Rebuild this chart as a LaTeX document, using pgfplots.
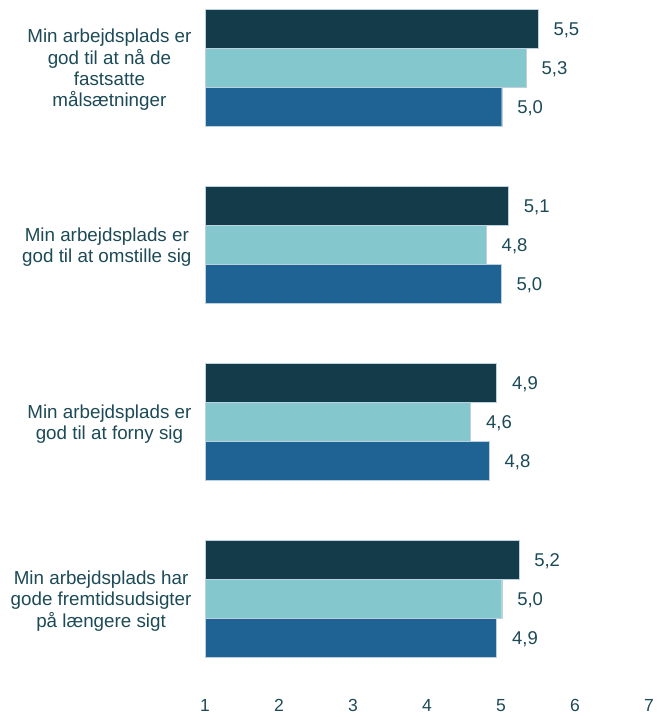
\documentclass[border=0pt]{standalone}
\usepackage{fontspec}
\setmainfont{Liberation Sans}
\usepackage{pgfplots}
\pgfplotsset{compat=1.18}
\definecolor{cdark}{HTML}{143B4A}
\definecolor{clight}{HTML}{84C8CE}
\definecolor{cmid}{HTML}{1F6395}
\definecolor{ctext}{HTML}{1C4A56}
\begin{document}
\begin{tikzpicture}[x=1pt,y=1pt]
\path[use as bounding box] (0,0) rectangle (658,717);
\begin{axis}[
  at={(205pt,29.5pt)}, anchor=south west,
  scale only axis, width=444pt, height=687.5pt,
  xbar, bar width=39pt,
  xmin=1, xmax=7, ymin=-0.5, ymax=3.384,
  xtick={1,2,3,4,5,6,7},
  ytick={0,1,2,3},
  yticklabels={{Min arbejdsplads har\\gode fremtidsudsigter\\på længere sigt},
               {Min arbejdsplads er\\god til at forny sig},
               {Min arbejdsplads er\\god til at omstille sig},
               {Min arbejdsplads er\\god til at nå de\\fastsatte\\målsætninger}},
  yticklabel style={align=center, font=\fontsize{18.8}{21.3}\selectfont, text=ctext, xshift=-10pt, yshift=-2pt},
  xticklabel style={font=\fontsize{17.5}{20}\selectfont, text=ctext, inner sep=1pt, yshift=-11pt},
  /pgf/number format/assume math mode=true,
  major tick length=0pt,
  axis line style={draw=none},
  nodes near coords,
  nodes near coords style={font=\fontsize{18.5}{21}\selectfont, text=ctext, anchor=west, xshift=12pt, yshift=-1pt,
    /pgf/number format/.cd, fixed, fixed zerofill, precision=1, use comma, assume math mode=true},
  every axis plot/.append style={draw=white!70!cmid, line width=0.4pt},
]
\addplot[fill=cdark, bar shift=39pt] coordinates {(5.24,0) (4.94,1) (5.10,2) (5.50,3)};
\addplot[fill=clight, bar shift=0pt] coordinates {(5.01,0) (4.59,1) (4.80,2) (5.34,3)};
\addplot[fill=cmid, bar shift=-39pt] coordinates {(4.94,0) (4.84,1) (5.00,2) (5.01,3)};
\end{axis}
\end{tikzpicture}
\end{document}
